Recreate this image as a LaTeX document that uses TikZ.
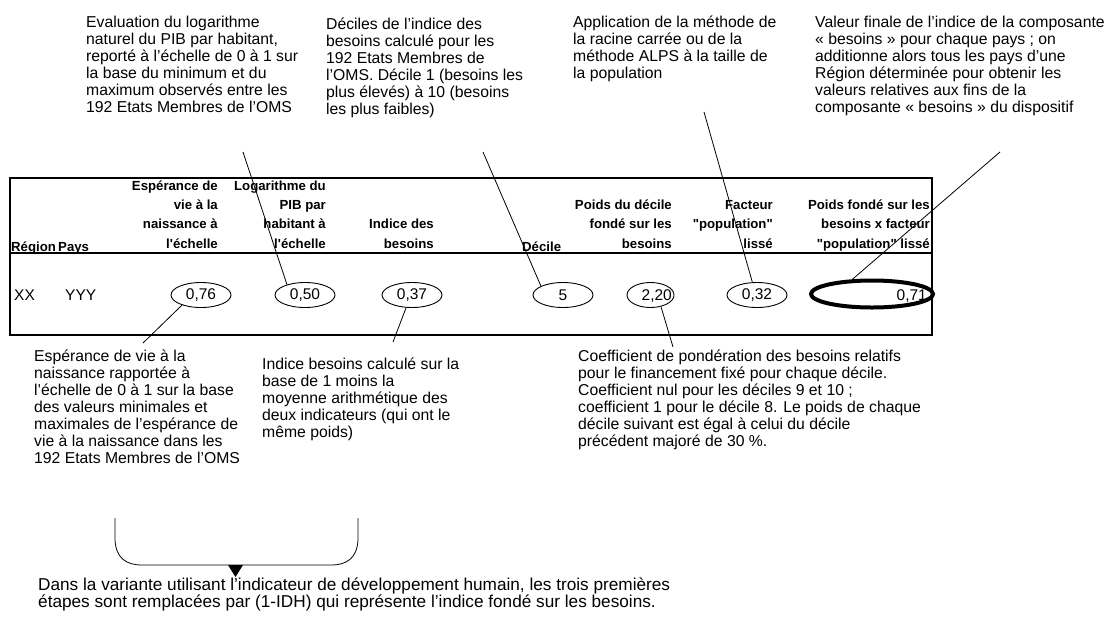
\documentclass[tikz,border=0pt]{standalone}
\usepackage{fontspec}
\setmainfont{Liberation Sans}
\newfontfamily\hfont{Liberation Sans}
\usetikzlibrary{shapes.geometric}
\begin{document}
\begin{tikzpicture}[x=1pt,y=-1pt,
  ann/.style={anchor=base west, inner sep=0pt, font=\fontsize{15.75}{17}\selectfont},
  hdr/.style={anchor=base east, inner sep=0pt, font=\hfont\bfseries\fontsize{13.2}{19.3}\selectfont},
  hdrl/.style={anchor=base west, inner sep=0pt, font=\hfont\bfseries\fontsize{13.2}{19.3}\selectfont},
  cell/.style={anchor=base west, inner sep=0pt, font=\fontsize{15.5}{17}\selectfont},
  val/.style={ellipse, draw, line width=0.9pt, minimum width=60pt, minimum height=25pt, inner sep=0pt, font=\fontsize{15.5}{17}\selectfont},
  lead/.style={line width=0.8pt},
  frame/.style={line width=2pt}
]
\useasboundingbox[fill=white] (0,0) rectangle (1119,619);

% table frame
\draw[frame] (10,178) rectangle (932,335);
\draw[frame] (10,253) -- (932,253);

% header
\node[hdrl] (hreg) at (11,251) {Région};
\node[hdrl] (hpays) at (58,251) {Pays};
\node[hdr] (hesp) at (218,248) {\begin{tabular}[b]{@{}r@{}}Espérance de\\vie à la\\naissance à\\l'échelle\end{tabular}};
\node[hdr] (hlog) at (326,248) {\begin{tabular}[b]{@{}r@{}}Logarithme du\\PIB par\\habitant à\\l'échelle\end{tabular}};
\node[hdr] (hind) at (434,248) {\begin{tabular}[b]{@{}r@{}}Indice des\\besoins\end{tabular}};
\node[hdrl] (hdec) at (522,251) {Décile};
\node[hdr] (hpoi) at (672,248) {\begin{tabular}[b]{@{}r@{}}Poids du décile\\fondé sur les\\besoins\end{tabular}};
\node[hdr] (hfac) at (773,248) {\begin{tabular}[b]{@{}r@{}}Facteur\\"population"\\lissé\end{tabular}};
\node[hdr] (hpfs) at (930,248) {\begin{tabular}[b]{@{}r@{}}Poids fondé sur les\\besoins x facteur\\"population" lissé\end{tabular}};

% data row
\node[cell] (xx) at (14,300.5) {XX};
\node[cell] (yyy) at (65,300.5) {YYY};
\node[val] (e076) at (201,295) {0,76};
\node[val] (e050) at (305,295) {0,50};
\node[val] (e037) at (412,295) {0,37};
\node[val] (e5) at (563,295) {5};
\node[val, minimum width=47pt] (e220) at (650.5,295) {};
\node[cell, anchor=base east] (t220) at (672,300.5) {2,20};
\node[val] (e032) at (757,295) {0,32};
\node[ellipse, draw, line width=4pt, minimum width=122pt, minimum height=27pt, inner sep=0pt] (e071) at (872,294) {};
\node[cell, anchor=base east] (t071) at (927,300.5) {0,71};

% annotations
\node[ann] (a1) at (86,27) {\begin{tabular}[t]{@{}l@{}}Evaluation du logarithme\\naturel du PIB par habitant,\\reporté à l’échelle de 0 à 1 sur\\la base du minimum et du\\maximum observés entre les\\192 Etats Membres de l’OMS\end{tabular}};
\node[ann] (a2) at (326,29) {\begin{tabular}[t]{@{}l@{}}Déciles de l’indice des\\besoins calculé pour les\\192 Etats Membres de\\l’OMS. Décile 1 (besoins les\\plus élevés) à 10 (besoins\\les plus faibles)\end{tabular}};
\node[ann] (a3) at (573,27) {\begin{tabular}[t]{@{}l@{}}Application de la méthode de\\la racine carrée ou de la\\méthode ALPS à la taille de\\la population\end{tabular}};
\node[ann] (a4) at (815,27) {\begin{tabular}[t]{@{}l@{}}Valeur finale de l’indice de la composante\\« besoins » pour chaque pays ; on\\additionne alors tous les pays d’une\\Région déterminée pour obtenir les\\valeurs relatives aux fins de la\\composante « besoins » du dispositif\end{tabular}};
\node[ann] (a5) at (34,361) {\begin{tabular}[t]{@{}l@{}}Espérance de vie à la\\naissance rapportée à\\l’échelle de 0 à 1 sur la base\\des valeurs minimales et\\maximales de l’espérance de\\vie à la naissance dans les\\192 Etats Membres de l’OMS\end{tabular}};
\node[ann] (a6) at (262,369) {\begin{tabular}[t]{@{}l@{}}Indice besoins calculé sur la\\base de 1 moins la\\moyenne arithmétique des\\deux indicateurs (qui ont le\\même poids)\end{tabular}};
\node[ann] (a7) at (578,361) {\begin{tabular}[t]{@{}l@{}}Coefficient de pondération des besoins relatifs\\pour le financement fixé pour chaque décile.\\Coefficient nul pour les déciles 9 et 10 ;\\coefficient 1 pour le décile 8. Le poids de chaque\\décile suivant est égal à celui du décile\\précédent majoré de 30 \%.\end{tabular}};
\node[ann, font=\fontsize{17.2}{17.5}\selectfont] (a8) at (38,590) {\begin{tabular}[t]{@{}l@{}}Dans la variante utilisant l’indicateur de développement humain, les trois premières\\étapes sont remplacées par (1-IDH) qui représente l’indice fondé sur les besoins.\end{tabular}};

% leader lines
\coordinate (c1) at (243,152);
\coordinate (c2) at (483,152);
\coordinate (c3) at (704,112);
\coordinate (c4) at (1000,152);
\coordinate (c5) at (143,343);
\coordinate (c6) at (393,342);
\coordinate (c7) at (673,347);
\draw[lead] (c1) -- (e050.150);
\draw[lead] (c2) -- (e5.158);
\draw[lead] (c3) -- (e032.110);
\draw[lead] (c4) -- (e071.143);
\draw[lead] (e076.208) -- (c5);
\draw[lead] (e037.245) -- (c6);
\draw[lead] (e220.312) -- (c7);

% bracket
\draw[line width=0.8pt] (115,518) -- (115,540) .. controls (116,558) and (126,565) .. (142,565) -- (331,565) .. controls (347,565) and (357,558) .. (358,540) -- (358,518);
\fill (228,565) -- (243,565) -- (235.5,577) -- cycle;
\end{tikzpicture}
\end{document}
